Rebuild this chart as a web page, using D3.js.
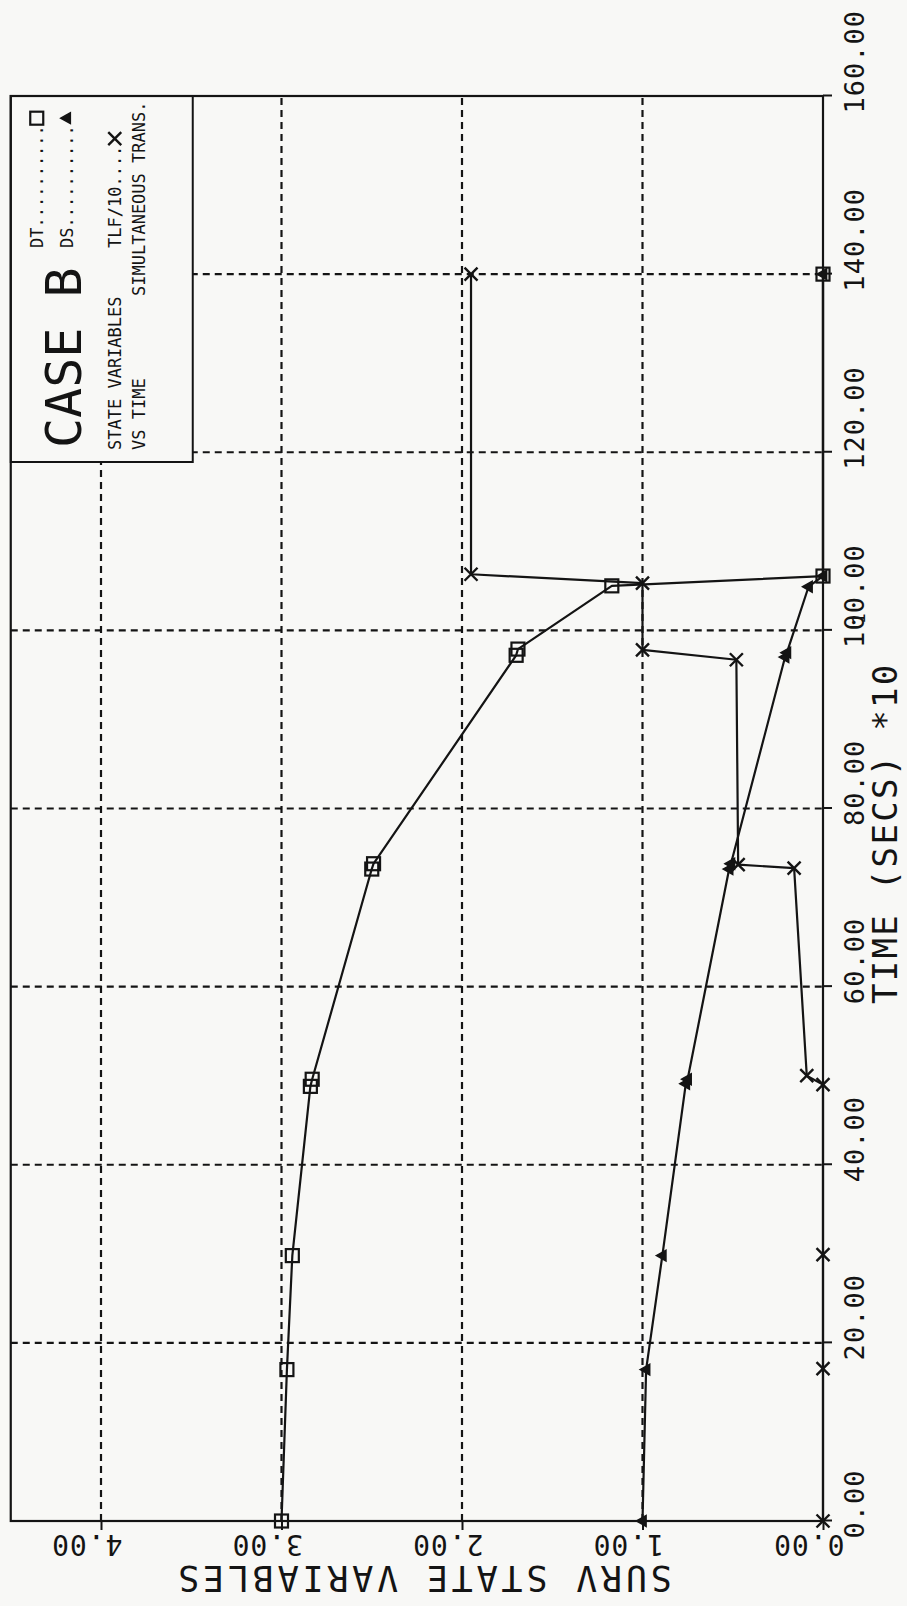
<!DOCTYPE html>
<html>
<head>
<meta charset="utf-8">
<script src="https://cdn.jsdelivr.net/npm/d3@7"></script>
<style>
  html, body { margin: 0; padding: 0; background: #f8f8f6; }
  svg { display: block; }
  text { font-family: "DejaVu Sans Mono", "Liberation Mono", monospace; fill: #141414; }
</style>
</head>
<body>
<svg id="chart" width="907" height="1606"></svg>
<script>
// Axis ticks
const timeTicks = [0, 20, 40, 60, 80, 100, 120, 140, 160];
const valueTicks = [0, 1, 2, 3, 4];

// DT (squares)
const dtTime  = [0, 17.0, 29.8, 48.8, 49.6, 73.2, 73.8, 97.2, 97.9, 105.0, 106.1, 140.0];
const dtValue = [3.00, 2.97, 2.94, 2.84, 2.83, 2.50, 2.49, 1.70, 1.69, 1.17, 0.00, 0.00];

// DS (triangles)
const dsTime  = [0, 17.0, 29.8, 49.1, 49.6, 73.2, 73.8, 97.0, 97.5, 104.9, 106.1, 140.0];
const dsValue = [1.00, 0.98, 0.89, 0.76, 0.75, 0.52, 0.51, 0.21, 0.20, 0.08, 0.00, 0.00];

// TLF/10 (crosses)
const tlfTime  = [0, 17.1, 29.9, 49.0, 50.0, 73.3, 73.7, 96.7, 97.8, 105.3, 106.3, 140.0];
const tlfValue = [0.00, 0.00, 0.00, 0.00, 0.09, 0.16, 0.47, 0.48, 1.00, 1.00, 1.95, 1.95];

const svg = d3.select("#chart");
const INK = "#141414";
const PAPER = "#f8f8f6";

// Plot drawn in its own frame, then turned a quarter turn so time runs upward
const PW = 1425;            // length of the time axis
const PH = 812.25;          // length of the value axis (0 .. 4.5)
const originX = 10.75, originY = 1521;

const x = d3.scaleLinear().domain([0, 160]).range([0, PW]);
const y = d3.scaleLinear().domain([0, 4.5]).range([PH, 0]);

const g = svg.append("g")
  .attr("transform", `translate(${originX},${originY}) rotate(-90)`);

// Dashed grid
const grid = g.append("g")
  .attr("stroke", INK).attr("stroke-width", 2.2)
  .attr("stroke-dasharray", "7,5").attr("fill", "none");
grid.selectAll("line.gv").data(valueTicks.filter(v => v > 0)).join("line")
  .attr("x1", 0).attr("x2", PW)
  .attr("y1", d => y(d)).attr("y2", d => y(d));
grid.selectAll("line.gt").data(timeTicks.filter(t => t > 0 && t < 160)).join("line")
  .attr("y1", 0).attr("y2", PH)
  .attr("x1", d => x(d)).attr("x2", d => x(d));

// Legend box (covers the grid in its corner)
const legW = 366, legH = 182;
const leg = g.append("g").attr("transform", `translate(${PW - legW},0)`);
leg.append("rect").attr("width", legW).attr("height", legH)
  .attr("fill", PAPER).attr("stroke", INK).attr("stroke-width", 2);

// Frame
g.append("rect").attr("width", PW).attr("height", PH)
  .attr("fill", "none").attr("stroke", INK).attr("stroke-width", 2.2);

// Time axis (labels to the right of the frame on screen)
const tAxis = g.append("g").attr("transform", `translate(0,${PH})`)
  .call(d3.axisBottom(x).tickValues(timeTicks).tickSize(9).tickFormat(d3.format(".2f")));
tAxis.select(".domain").remove();
tAxis.selectAll(".tick line").attr("stroke", INK).attr("stroke-width", 2);
tAxis.selectAll(".tick text")
  .attr("text-anchor", "start").attr("x", -18).attr("y", 41).attr("dy", null)
  .attr("font-size", 27).attr("letter-spacing", 1)
  .attr("font-family", "DejaVu Sans Mono").attr("fill", INK);

// Value axis (labels below the frame on screen, upside down)
const vAxis = g.append("g")
  .call(d3.axisLeft(y).tickValues(valueTicks).tickSize(9).tickFormat(d3.format(".2f")));
vAxis.select(".domain").remove();
vAxis.selectAll(".tick line").attr("stroke", INK).attr("stroke-width", 2);
vAxis.selectAll(".tick text")
  .attr("x", null).attr("dy", null)
  .attr("text-anchor", "start")
  .attr("transform", "translate(-14,21) rotate(-90)")
  .attr("font-size", 28).attr("letter-spacing", 1)
  .attr("font-family", "DejaVu Sans Mono").attr("fill", INK);

// Axis titles
g.append("text")
  .attr("transform", `translate(-45,${661}) rotate(-90)`)
  .attr("font-size", 35).attr("letter-spacing", 3.8)
  .text("SURV STATE VARIABLES");

g.append("text")
  .attr("x", 517).attr("y", PH + 74)
  .attr("font-size", 34).attr("letter-spacing", 2.3)
  .text("TIME (SECS)  *10");
g.append("text")
  .attr("x", 897).attr("y", PH + 42)
  .attr("font-size", 18)
  .text("1");

// Series lines and markers
const line = d3.line().x(d => x(d[0])).y(d => y(d[1]));
const series = [
  { t: dtTime, v: dtValue, mark: "square" },
  { t: dsTime, v: dsValue, mark: "triangle" },
  { t: tlfTime, v: tlfValue, mark: "cross" }
];
series.forEach(s => {
  const pts = s.t.map((t, i) => [t, s.v[i]]);
  g.append("path").datum(pts).attr("d", line)
    .attr("fill", "none").attr("stroke", INK).attr("stroke-width", 2.2)
    .attr("stroke-linejoin", "round");
  const m = g.append("g");
  pts.forEach(p => drawMark(m, s.mark, x(p[0]), y(p[1])));
});

function drawMark(sel, kind, cx, cy) {
  if (kind === "square") {
    sel.append("rect").attr("x", cx - 6.5).attr("y", cy - 6.5)
      .attr("width", 13).attr("height", 13)
      .attr("fill", "none").attr("stroke", INK).attr("stroke-width", 2.2);
  } else if (kind === "triangle") {
    const s = 6;
    sel.append("path")
      .attr("d", `M${cx},${cy - s} L${cx + s * 0.9},${cy + s * 0.6} L${cx - s * 0.9},${cy + s * 0.6} Z`)
      .attr("fill", INK).attr("stroke", INK).attr("stroke-width", 1.5);
  } else {
    const s = 6.5;
    sel.append("path")
      .attr("d", `M${cx - s},${cy - s} L${cx + s},${cy + s} M${cx - s},${cy + s} L${cx + s},${cy - s}`)
      .attr("stroke", INK).attr("stroke-width", 2.4).attr("fill", "none");
  }
}

// Legend content
leg.append("text").attr("x", 14).attr("y", 70)
  .attr("font-size", 50)
  .text("CASE B");
leg.append("text").attr("x", 12).attr("y", 110).attr("font-size", 17)
  .text("STATE VARIABLES");
leg.append("text").attr("x", 12).attr("y", 134).attr("font-size", 17)
  .text("VS TIME");

const smallAdv = 17 * 0.602;
const entries = [
  { label: "DT..........", mark: "square", yy: 32 },
  { label: "DS..........", mark: "triangle", yy: 62 },
  { label: "TLF/10....", mark: "cross", yy: 110 }
];
const entryX = 214;
entries.forEach(e => {
  leg.append("text").attr("x", entryX).attr("y", e.yy).attr("font-size", 17).text(e.label);
  drawMark(leg, e.mark, entryX + e.label.length * smallAdv + 7, e.yy - 6);
});
leg.append("text").attr("x", 166).attr("y", 134).attr("font-size", 17)
  .text("SIMULTANEOUS TRANS.");
</script>
</body>
</html>
